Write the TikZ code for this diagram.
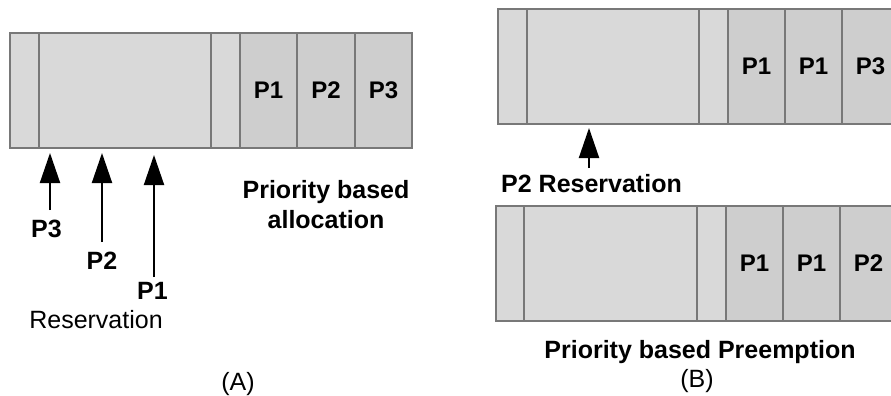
\documentclass[tikz,border=0pt]{standalone}
\usepackage{fontspec}
\setmainfont{Liberation Sans}
\usetikzlibrary{arrows.meta}

\definecolor{slotfree}{RGB}{217,217,217}
\definecolor{slotused}{RGB}{206,206,206}
\definecolor{slotline}{RGB}{120,120,120}

\tikzset{
  slot/.style={draw=slotline, line width=1.2pt, fill=slotfree, rectangle,
    inner sep=0pt, minimum height=115pt},
  used/.style={slot, fill=slotused, font=\fontsize{24}{28}\selectfont\bfseries},
  lbl/.style={inner sep=0pt, anchor=base, font=\fontsize{25}{30}\selectfont\bfseries},
  plain/.style={inner sep=0pt, anchor=base, font=\fontsize{25}{30}\selectfont},
  resv/.style={line width=2pt, -{Triangle[width=20pt,length=30pt]}}
}

\begin{document}
\begin{tikzpicture}[x=1pt, y=-1pt]
\useasboundingbox (0,0) rectangle (891,396);

% (A) buffer with priority based allocation
\node[slot, minimum width=29pt]  (a1) at (24.5,90.5) {};
\node[slot, minimum width=172pt] (a2) at (125,90.5) {};
\node[slot, minimum width=29pt]  (a3) at (225.5,90.5) {};
\node[used, minimum width=57pt]  (a4) at (268.5,90.5) {P1};
\node[used, minimum width=58pt]  (a5) at (326,90.5) {P2};
\node[used, minimum width=57pt]  (a6) at (383.5,90.5) {P3};

% reservation pointers of (A)
\node[lbl] (ra3) at (46.5,237) {P3};
\node[lbl] (ra2) at (102,269) {P2};
\node[lbl] (ra1) at (152.5,299) {P1};
\node[plain] (rlab) at (96,328) {Reservation};
\coordinate (ta3) at (50,210);  \coordinate (ha3) at (50,153);
\coordinate (ta2) at (102,242); \coordinate (ha2) at (102,153);
\coordinate (ta1) at (154,277); \coordinate (ha1) at (154,155);
\draw[resv] (ta3) -- (ha3);
\draw[resv] (ta2) -- (ha2);
\draw[resv] (ta1) -- (ha1);

\node[lbl] (ca1) at (326,198) {Priority based};
\node[lbl] (ca2) at (326,228) {allocation};
\node[plain] (capA) at (238,390) {(A)};

% (B) buffer before preemption
\node[slot, minimum width=29pt]  (b1) at (512.5,66.5) {};
\node[slot, minimum width=172pt] (b2) at (613,66.5) {};
\node[slot, minimum width=29pt]  (b3) at (713.5,66.5) {};
\node[used, minimum width=57pt]  (b4) at (756.5,66.5) {P1};
\node[used, minimum width=57pt]  (b5) at (813.5,66.5) {P1};
\node[used, minimum width=57pt]  (b6) at (870.5,66.5) {P3};

\node[lbl, anchor=base west] (rb) at (501,192) {P2 Reservation};
\coordinate (tb) at (589,168); \coordinate (hb) at (589,128);
\draw[resv] (tb) -- (hb);

% (B) buffer after preemption
\node[slot, minimum width=28pt]  (c1) at (510,263.5) {};
\node[slot, minimum width=173pt] (c2) at (610.5,263.5) {};
\node[slot, minimum width=29pt]  (c3) at (711.5,263.5) {};
\node[used, minimum width=57pt]  (c4) at (754.5,263.5) {P1};
\node[used, minimum width=57pt]  (c5) at (811.5,263.5) {P1};
\node[used, minimum width=57pt]  (c6) at (868.5,263.5) {P2};

\node[lbl] (cb) at (700,358) {Priority based Preemption};
\node[plain] (capB) at (697,387) {(B)};
\end{tikzpicture}
\end{document}
